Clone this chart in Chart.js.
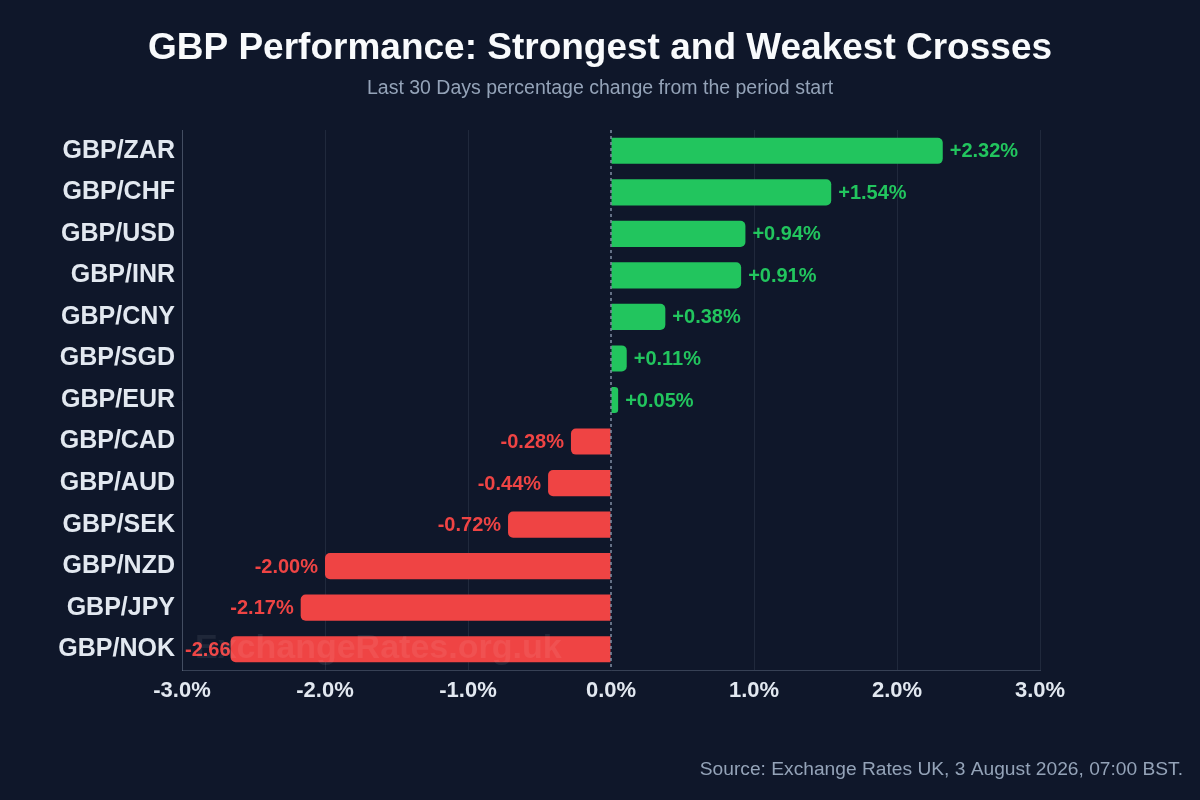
<!DOCTYPE html>
<html>
<head>
<meta charset="utf-8">
<script src="https://cdn.jsdelivr.net/npm/chart.js@4"></script>
<style>
  html, body { margin: 0; padding: 0; background: #0f172a; }
  #wrap { width: 1200px; height: 800px; position: relative; }
</style>
</head>
<body>
<div id="wrap"><canvas id="graph"></canvas></div>
<script>
// Данные графика
var pairs = ['GBP/ZAR', 'GBP/CHF', 'GBP/USD', 'GBP/INR', 'GBP/CNY', 'GBP/SGD', 'GBP/EUR',
             'GBP/CAD', 'GBP/AUD', 'GBP/SEK', 'GBP/NZD', 'GBP/JPY', 'GBP/NOK'];
var changes = [2.32, 1.54, 0.94, 0.91, 0.38, 0.11, 0.05, -0.28, -0.44, -0.72, -2.00, -2.17, -2.66];
var xTicks = [-3, -2, -1, 0, 1, 2, 3];

var titleText = 'GBP Performance: Strongest and Weakest Crosses';
var subtitleText = 'Last 30 Days percentage change from the period start';
var sourceText = 'Source: Exchange Rates UK, 3 August 2026, 07:00 BST.';
var watermarkText = 'ExchangeRates.org.uk';

var GREEN = '#22c55e';
var RED = '#ef4444';
var FONT = '"Liberation Sans", Arial, Helvetica, sans-serif';

function fmt(v) {
    return (v > 0 ? '+' : '') + v.toFixed(2) + '%';
}

// Подписи значений у концов столбцов (рисуются до столбцов, чтобы столбец перекрывал вылет)
var valueLabels = {
    id: 'valueLabels',
    beforeDatasetsDraw: function (chart) {
        var ctx = chart.ctx;
        var meta = chart.getDatasetMeta(0);
        var area = chart.chartArea;
        ctx.save();
        ctx.font = 'bold 20px ' + FONT;
        ctx.textBaseline = 'middle';
        meta.data.forEach(function (bar, i) {
            var v = changes[i];
            var txt = fmt(v);
            ctx.fillStyle = v >= 0 ? GREEN : RED;
            if (v >= 0) {
                ctx.textAlign = 'left';
                ctx.fillText(txt, bar.x + 7, bar.y + 1);
            } else {
                var w = ctx.measureText(txt).width;
                var x = bar.x - 7;
                if (x - w < area.left + 3) {
                    ctx.textAlign = 'left';
                    ctx.fillText(txt, area.left + 3, bar.y + 1);
                } else {
                    ctx.textAlign = 'right';
                    ctx.fillText(txt, x, bar.y + 1);
                }
            }
        });
        ctx.restore();
    }
};

// Заголовки, нулевая линия, водяной знак и источник
var overlay = {
    id: 'overlay',
    beforeDraw: function (chart) {
        var ctx = chart.ctx;
        ctx.save();
        ctx.textAlign = 'center';
        ctx.textBaseline = 'middle';
        ctx.fillStyle = '#f8fafc';
        ctx.font = 'bold 37px ' + FONT;
        ctx.fillText(titleText, 600, 49);
        ctx.fillStyle = '#94a3b8';
        ctx.font = '19.5px ' + FONT;
        ctx.fillText(subtitleText, 600, 89);
        ctx.textAlign = 'right';
        ctx.font = '19.2px ' + FONT;
        ctx.fillText(sourceText, 1183, 770);
        ctx.restore();
    },
    afterDatasetsDraw: function (chart) {
        var ctx = chart.ctx;
        var area = chart.chartArea;
        var x0 = chart.scales.x.getPixelForValue(0);
        ctx.save();
        ctx.strokeStyle = 'rgba(148,163,184,0.85)';
        ctx.lineWidth = 1.5;
        ctx.setLineDash([3, 3]);
        ctx.beginPath();
        ctx.moveTo(x0, area.top);
        ctx.lineTo(x0, area.bottom);
        ctx.stroke();
        ctx.setLineDash([]);

        ctx.font = 'bold 34px ' + FONT;
        ctx.fillStyle = 'rgba(255,255,255,0.07)';
        ctx.textAlign = 'left';
        ctx.textBaseline = 'middle';
        ctx.fillText(watermarkText, area.left + 13, area.bottom - 21);
        ctx.restore();
    }
};

var ctx = document.getElementById('graph').getContext('2d');
var chart = new Chart(ctx, {
    type: 'bar',
    data: {
        labels: pairs,
        datasets: [{
            data: changes,
            backgroundColor: changes.map(function (v) { return v >= 0 ? GREEN : RED; }),
            borderRadius: 5,
            borderSkipped: 'start',
            categoryPercentage: 1.0,
            barPercentage: 0.63
        }]
    },
    options: {
        indexAxis: 'y',
        responsive: true,
        maintainAspectRatio: false,
        animation: false,
        layout: { padding: { left: 0, right: 160, top: 130, bottom: 90 } },
        plugins: {
            legend: { display: false },
            tooltip: { enabled: false },
            title: { display: false },
            subtitle: { display: false }
        },
        scales: {
            x: {
                type: 'linear',
                min: -3,
                max: 3,
                afterBuildTicks: function (scale) {
                    scale.ticks = xTicks.map(function (v) { return { value: v }; });
                },
                afterFit: function (scale) { scale.height = 40; },
                ticks: {
                    color: '#e2e8f0',
                    font: { family: FONT, size: 22, weight: 'bold' },
                    padding: 8,
                    callback: function (v) { return v.toFixed(1) + '%'; }
                },
                grid: {
                    drawTicks: false,
                    color: function (c) {
                        return c.tick && c.tick.value === 0 ? 'rgba(0,0,0,0)' : 'rgba(148,163,184,0.13)';
                    }
                },
                border: { color: 'rgba(148,163,184,0.3)' }
            },
            y: {
                afterFit: function (scale) { scale.width = 182; },
                ticks: {
                    color: '#e2e8f0',
                    font: { family: FONT, size: 25, weight: 'bold' },
                    padding: 7
                },
                grid: { display: false, drawTicks: false },
                border: { display: true, color: 'rgba(148,163,184,0.3)' }
            }
        }
    },
    plugins: [valueLabels, overlay]
});
</script>
</body>
</html>
